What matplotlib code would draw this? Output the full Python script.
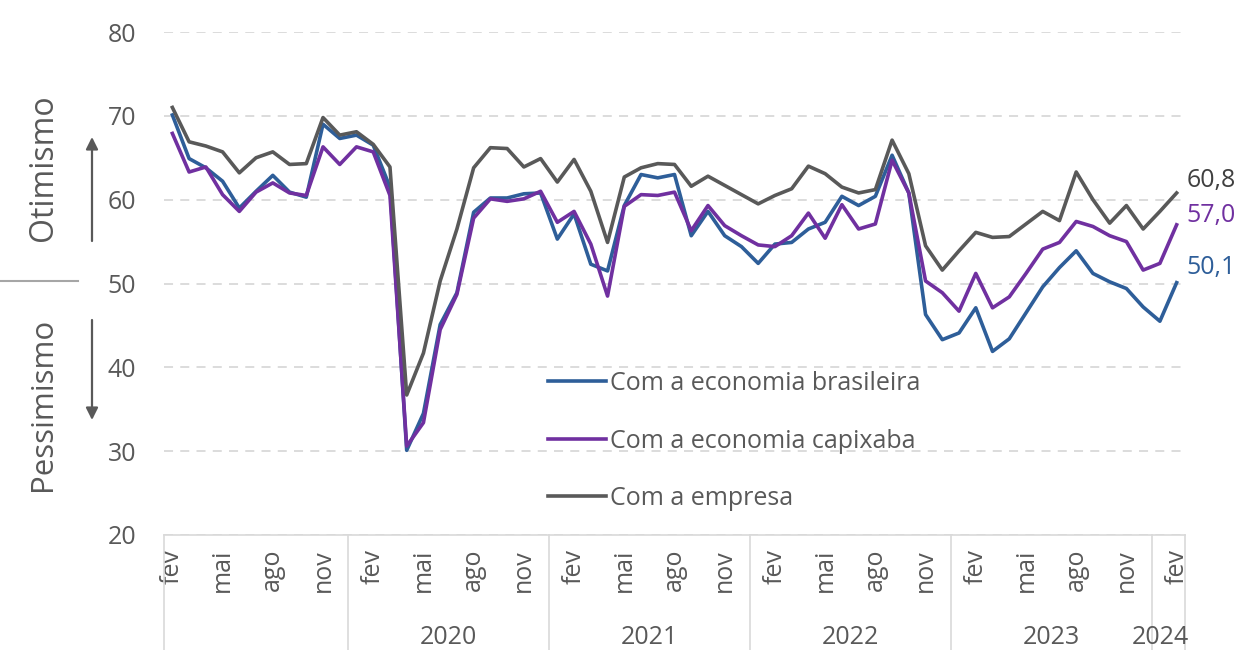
import numpy as np
import matplotlib
matplotlib.use('Agg')
import matplotlib.pyplot as plt
import matplotlib.transforms as mtransforms
from matplotlib.lines import Line2D

plt.rcParams['font.family'] = ['Open Sans', 'DejaVu Sans']

# Monthly data, fev/2019 .. fev/2024 (61 months)
brasileira = [70.1, 64.9, 63.8, 62.2, 59.0, 61.0, 62.9, 60.9, 60.3, 69.0, 67.3, 67.7,
              66.5, 61.5, 30.1, 34.5, 45.1, 48.9, 58.5, 60.2, 60.2, 60.7, 60.8, 55.3,
              58.3, 52.3, 51.5, 59.3, 63.0, 62.6, 63.0, 55.7, 58.6, 55.7, 54.4, 52.4,
              54.7, 54.9, 56.5, 57.3, 60.4, 59.3, 60.4, 65.3, 60.8, 46.3, 43.3, 44.1,
              47.1, 41.9, 43.4, 46.5, 49.6, 51.9, 53.9, 51.2, 50.2, 49.4, 47.2, 45.5,
              50.1]
capixaba = [67.9, 63.3, 63.9, 60.6, 58.6, 60.9, 62.0, 60.8, 60.5, 66.3, 64.2, 66.3,
            65.7, 60.5, 30.6, 33.4, 44.5, 48.7, 57.8, 60.1, 59.8, 60.1, 61.0, 57.3,
            58.6, 54.7, 48.5, 59.2, 60.6, 60.5, 60.9, 56.3, 59.3, 56.9, 55.7, 54.6,
            54.4, 55.7, 58.4, 55.4, 59.4, 56.5, 57.1, 64.7, 60.8, 50.3, 48.9, 46.7,
            51.2, 47.1, 48.4, 51.2, 54.1, 54.9, 57.4, 56.8, 55.7, 55.0, 51.6, 52.4,
            57.0]
empresa = [71.0, 66.9, 66.4, 65.7, 63.2, 65.0, 65.7, 64.2, 64.3, 69.8, 67.7, 68.1,
           66.6, 63.9, 36.7, 41.7, 50.3, 56.5, 63.8, 66.2, 66.1, 63.9, 64.9, 62.1,
           64.8, 61.0, 54.9, 62.7, 63.8, 64.3, 64.2, 61.6, 62.8, 61.7, 60.6, 59.5,
           60.5, 61.3, 64.0, 63.1, 61.5, 60.8, 61.2, 67.1, 63.1, 54.5, 51.6, 53.9,
           56.1, 55.5, 55.6, 57.1, 58.6, 57.5, 63.3, 60.0, 57.2, 59.3, 56.5, 58.6,
           60.8]

month_labels = ['fev', 'mai', 'ago', 'nov']
years = ['', '2020', '2021', '2022', '2023', '2024']
months_in_year = [11, 12, 12, 12, 12, 2]

c_bra = '#2E5E99'
c_cap = '#7030A0'
c_emp = '#595959'
txt = '#595959'

fig = plt.figure(figsize=(12.36, 6.5), dpi=100)
ax = fig.add_axes([164/1236, 1-535/650, (1185-164)/1236, (535-32)/650])

x = np.arange(len(empresa))
ax.plot(x, brasileira, color=c_bra, lw=2.6, label='Com a economia brasileira')
ax.plot(x, capixaba, color=c_cap, lw=2.6, label='Com a economia capixaba')
ax.plot(x, empresa, color=c_emp, lw=2.6, label='Com a empresa')

ax.set_xlim(-0.5, len(x) - 0.5)
ax.set_ylim(20, 80)
ax.set_yticks(range(20, 81, 10))
ax.yaxis.grid(True, color='#D9D9D9', lw=1.3, ls=(0, (5, 4)))
ax.set_axisbelow(True)
for s in ['left', 'right', 'top']:
    ax.spines[s].set_visible(False)
ax.spines['bottom'].set_color('#D9D9D9')
ax.spines['bottom'].set_linewidth(1.2)
ax.tick_params(axis='y', length=0, pad=20, labelsize=18, labelcolor=txt)

ticks = list(range(0, len(x), 3))
ax.set_xticks(ticks)
ax.set_xticklabels([month_labels[i % 4] for i in range(len(ticks))], rotation=90)
ax.tick_params(axis='x', length=0, pad=10, labelsize=18, labelcolor=txt)

# year groups and separators
trans = mtransforms.blended_transform_factory(ax.transData, ax.transAxes)
start = -0.5
bounds = [start]
for yr, n in zip(years, months_in_year):
    end = start + n
    if yr:
        xc = (start + end) / 2
        if n < 4:
            xc -= 0.5
        ax.text(xc, -0.203, yr, transform=trans, ha='center',
                va='center', fontsize=18, color=txt)
    bounds.append(end)
    start = end
for b in bounds:
    ax.plot([b, b], [0, -0.24], transform=trans, color='#D9D9D9', lw=1.2,
            clip_on=False)

# end labels
ax.annotate('60,8', (x[-1], empresa[-1]), xytext=(7, 9), textcoords='offset points',
            fontsize=18, color='#404040', va='center')
ax.annotate('57,0', (x[-1], capixaba[-1]), xytext=(7, 7), textcoords='offset points',
            fontsize=18, color=c_cap, va='center')
ax.annotate('50,1', (x[-1], brasileira[-1]), xytext=(7, 11), textcoords='offset points',
            fontsize=18, color=c_bra, va='center')

ax.legend(loc='upper left', bbox_to_anchor=(548/1236, 1-371/650),
          bbox_transform=fig.transFigure, frameon=False, fontsize=18,
          handlelength=2.3, handletextpad=0.2, labelspacing=1.3,
          borderpad=0, borderaxespad=0, labelcolor=txt)

# otimismo / pessimismo side annotations
fig.text(43/1236, 1-168/650, 'Otimismo', rotation=90, ha='center', va='center',
         fontsize=23, color=txt)
fig.text(43/1236, 1-404/650, 'Pessimismo', rotation=90, ha='center', va='center',
         fontsize=22.5, color=txt)
fig.add_artist(Line2D([0, 78/1236], [1-281/650, 1-281/650], color='#A6A6A6', lw=1.5))
arrow = dict(arrowstyle='-|>', color='#595959', lw=1.6, mutation_scale=18,
             shrinkA=0, shrinkB=0)
ax.annotate('', xy=(92, 650-137), xytext=(92, 650-241), xycoords='figure pixels',
            textcoords='figure pixels', arrowprops=arrow)
ax.annotate('', xy=(92, 650-420), xytext=(92, 650-320), xycoords='figure pixels',
            textcoords='figure pixels', arrowprops=arrow)

fig.savefig('out.png', dpi=100)
